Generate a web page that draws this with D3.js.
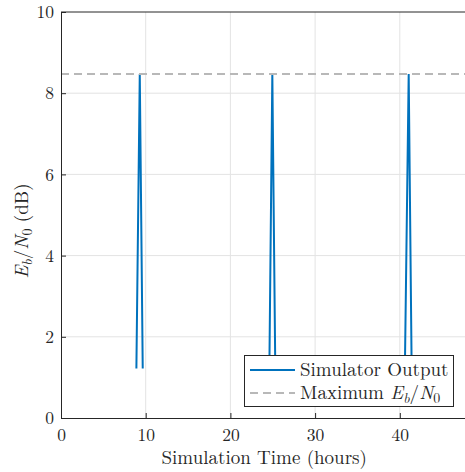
<!DOCTYPE html>
<html><head><meta charset="utf-8">
<script src="https://cdn.jsdelivr.net/npm/d3@7/dist/d3.min.js"></script>
<style>body{margin:0;background:#fff}svg{display:block}svg text{font-family:'Latin Modern Roman','Liberation Serif',serif !important;fill:#262626}</style>
</head><body><svg id="c" width="465" height="472"></svg>
<script>
const timeHours = [8.9, 9.3, 9.65, null, 24.6, 24.95, 25.3, null, 40.6, 41.05, 41.4];
const ebn0 = [1.22, 8.47, 1.22, null, 1.22, 8.47, 1.22, null, 1.22, 8.47, 1.22];
const maxEbN0 = 8.47;
const xTicks = [0, 10, 20, 30, 40];
const yTicks = [0, 2, 4, 6, 8, 10];

const svg = d3.select("#c");
const L = 61, T = 12, B = 418;
const x = d3.scaleLinear().domain([0, 48]).range([L, L + 48 * 8.47]);
const y = d3.scaleLinear().domain([0, 10]).range([B, T]);
const R = x(48);

// grid
svg.append("g").selectAll("line").data(xTicks.slice(1)).join("line")
  .attr("x1", d => x(d)).attr("x2", d => x(d)).attr("y1", T).attr("y2", B)
  .attr("stroke", "#e3e3e3").attr("stroke-width", 1);
svg.append("g").selectAll("line").data(yTicks.slice(1, -1)).join("line")
  .attr("y1", d => y(d)).attr("y2", d => y(d)).attr("x1", L).attr("x2", R)
  .attr("stroke", "#e3e3e3").attr("stroke-width", 1);

// data
const pts = timeHours.map((t, i) => ({t, v: ebn0[i]}));
const line = d3.line().defined(d => d.t !== null).x(d => x(d.t)).y(d => y(d.v));
svg.append("path").datum(pts).attr("d", line).attr("fill", "none")
  .attr("stroke", "#0072BD").attr("stroke-width", 2);

svg.append("line").attr("x1", L).attr("x2", R).attr("y1", y(maxEbN0)).attr("y2", y(maxEbN0))
  .attr("stroke", "#b8b8b8").attr("stroke-width", 2).attr("stroke-dasharray", "8,5");

// axes
const xAxis = d3.axisBottom(x).tickValues(xTicks).tickSize(-5).tickPadding(11).tickFormat(d3.format("d"));
const gx = svg.append("g").attr("transform", `translate(0,${B})`).call(xAxis);
const yAxis = d3.axisLeft(y).tickValues(yTicks).tickSize(-5).tickPadding(7).tickFormat(d3.format("d"));
const gy = svg.append("g").attr("transform", `translate(${L},0)`).call(yAxis);
[gx, gy].forEach(g => {
  g.selectAll(".tick text").style("font-size", "17.5px");
  g.select(".domain").attr("stroke", "#262626").attr("stroke-width", 1);
  g.selectAll(".tick line").attr("stroke", "#262626");
});
svg.append("line").attr("x1", L).attr("x2", R).attr("y1", T).attr("y2", T).attr("stroke", "#262626");
svg.append("line").attr("x1", R).attr("x2", R).attr("y1", T).attr("y2", B).attr("stroke", "#262626");

// labels
svg.append("text").attr("x", (L + R) / 2).attr("y", 464).attr("text-anchor", "middle")
  .style("font-size", "19px").text("Simulation Time (hours)");
const yl = svg.append("text").attr("transform", `translate(28,231) rotate(-90)`)
  .attr("text-anchor", "middle").style("font-size", "19px");
yl.append("tspan").style("font-style", "italic").text("E");
yl.append("tspan").style("font-style", "italic").style("font-size", "14px").attr("dy", 4).text("b");
yl.append("tspan").attr("dy", -4).text("/");
yl.append("tspan").style("font-style", "italic").text("N");
yl.append("tspan").style("font-size", "14px").attr("dy", 4).text("0");
yl.append("tspan").attr("dy", -4).text(" (dB)");

// legend
const lg = svg.append("g");
lg.append("rect").attr("x", 244.5).attr("y", 355.5).attr("width", 209).attr("height", 51)
  .attr("fill", "#fff").attr("stroke", "#262626").attr("stroke-width", 1);
lg.append("line").attr("x1", 250).attr("x2", 295).attr("y1", 370).attr("y2", 370)
  .attr("stroke", "#0072BD").attr("stroke-width", 2);
lg.append("line").attr("x1", 250).attr("x2", 295).attr("y1", 393).attr("y2", 393)
  .attr("stroke", "#b8b8b8").attr("stroke-width", 2).attr("stroke-dasharray", "8,5");
lg.append("text").attr("x", 300).attr("y", 376).style("font-size", "19px").text("Simulator Output");
const l2 = lg.append("text").attr("x", 300).attr("y", 399).style("font-size", "19px");
l2.append("tspan").text("Maximum ");
l2.append("tspan").style("font-style", "italic").text("E");
l2.append("tspan").style("font-style", "italic").style("font-size", "14px").attr("dy", 4).text("b");
l2.append("tspan").attr("dy", -4).text("/");
l2.append("tspan").style("font-style", "italic").text("N");
l2.append("tspan").style("font-size", "14px").attr("dy", 4).text("0");
</script></body></html>
